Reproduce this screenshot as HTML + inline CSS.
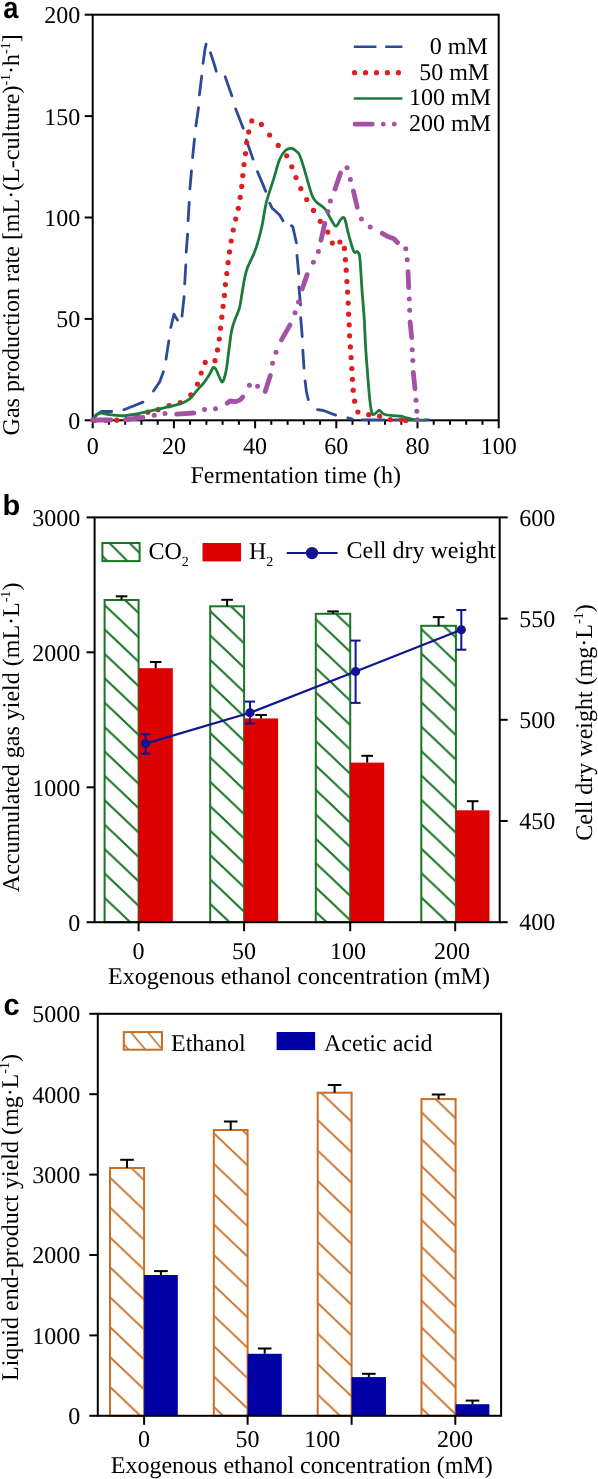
<!DOCTYPE html>
<html><head><meta charset="utf-8"><style>
html,body{margin:0;padding:0;background:#fff;width:598px;height:1479px;overflow:hidden}
svg{display:block;will-change:transform}
text{text-rendering:geometricPrecision}
text{fill:#000}
</style></head><body>
<svg width="598" height="1479" viewBox="0 0 598 1479">
<rect width="598" height="1479" fill="#fff"/>
<text transform="translate(3.3,17.6) scale(0.94,1.05)" font-size="29" font-family="'Liberation Sans', sans-serif" font-weight="bold">a</text>
<rect x="92.7" y="14.7" width="406" height="405.6" fill="none" stroke="#000" stroke-width="2.0"/>
<line x1="84.7" y1="420.3" x2="92.7" y2="420.3" stroke="#000" stroke-width="2.0" />
<text x="80.2" y="428.7" font-size="24" text-anchor="end" font-family="'Liberation Serif', serif" font-weight="normal" >0</text>
<line x1="84.7" y1="318.9" x2="92.7" y2="318.9" stroke="#000" stroke-width="2.0" />
<text x="80.2" y="327.3" font-size="24" text-anchor="end" font-family="'Liberation Serif', serif" font-weight="normal" >50</text>
<line x1="84.7" y1="217.5" x2="92.7" y2="217.5" stroke="#000" stroke-width="2.0" />
<text x="80.2" y="225.9" font-size="24" text-anchor="end" font-family="'Liberation Serif', serif" font-weight="normal" >100</text>
<line x1="84.7" y1="116.1" x2="92.7" y2="116.1" stroke="#000" stroke-width="2.0" />
<text x="80.2" y="124.5" font-size="24" text-anchor="end" font-family="'Liberation Serif', serif" font-weight="normal" >150</text>
<line x1="84.7" y1="14.7" x2="92.7" y2="14.7" stroke="#000" stroke-width="2.0" />
<text x="80.2" y="23.1" font-size="24" text-anchor="end" font-family="'Liberation Serif', serif" font-weight="normal" >200</text>
<line x1="92.7" y1="420.3" x2="92.7" y2="428.3" stroke="#000" stroke-width="2.0" />
<line x1="108.9" y1="420.3" x2="108.9" y2="424.8" stroke="#000" stroke-width="2.0" />
<line x1="125.2" y1="420.3" x2="125.2" y2="424.8" stroke="#000" stroke-width="2.0" />
<line x1="141.4" y1="420.3" x2="141.4" y2="424.8" stroke="#000" stroke-width="2.0" />
<line x1="157.7" y1="420.3" x2="157.7" y2="424.8" stroke="#000" stroke-width="2.0" />
<line x1="173.9" y1="420.3" x2="173.9" y2="428.3" stroke="#000" stroke-width="2.0" />
<line x1="190.1" y1="420.3" x2="190.1" y2="424.8" stroke="#000" stroke-width="2.0" />
<line x1="206.4" y1="420.3" x2="206.4" y2="424.8" stroke="#000" stroke-width="2.0" />
<line x1="222.6" y1="420.3" x2="222.6" y2="424.8" stroke="#000" stroke-width="2.0" />
<line x1="238.9" y1="420.3" x2="238.9" y2="424.8" stroke="#000" stroke-width="2.0" />
<line x1="255.1" y1="420.3" x2="255.1" y2="428.3" stroke="#000" stroke-width="2.0" />
<line x1="271.3" y1="420.3" x2="271.3" y2="424.8" stroke="#000" stroke-width="2.0" />
<line x1="287.6" y1="420.3" x2="287.6" y2="424.8" stroke="#000" stroke-width="2.0" />
<line x1="303.8" y1="420.3" x2="303.8" y2="424.8" stroke="#000" stroke-width="2.0" />
<line x1="320.1" y1="420.3" x2="320.1" y2="424.8" stroke="#000" stroke-width="2.0" />
<line x1="336.3" y1="420.3" x2="336.3" y2="428.3" stroke="#000" stroke-width="2.0" />
<line x1="352.5" y1="420.3" x2="352.5" y2="424.8" stroke="#000" stroke-width="2.0" />
<line x1="368.8" y1="420.3" x2="368.8" y2="424.8" stroke="#000" stroke-width="2.0" />
<line x1="385" y1="420.3" x2="385" y2="424.8" stroke="#000" stroke-width="2.0" />
<line x1="401.3" y1="420.3" x2="401.3" y2="424.8" stroke="#000" stroke-width="2.0" />
<line x1="417.5" y1="420.3" x2="417.5" y2="428.3" stroke="#000" stroke-width="2.0" />
<line x1="433.7" y1="420.3" x2="433.7" y2="424.8" stroke="#000" stroke-width="2.0" />
<line x1="450" y1="420.3" x2="450" y2="424.8" stroke="#000" stroke-width="2.0" />
<line x1="466.2" y1="420.3" x2="466.2" y2="424.8" stroke="#000" stroke-width="2.0" />
<line x1="482.5" y1="420.3" x2="482.5" y2="424.8" stroke="#000" stroke-width="2.0" />
<line x1="498.7" y1="420.3" x2="498.7" y2="428.3" stroke="#000" stroke-width="2.0" />
<text x="92.7" y="454.2" font-size="24" text-anchor="middle" font-family="'Liberation Serif', serif" font-weight="normal" >0</text>
<text x="173.9" y="454.2" font-size="24" text-anchor="middle" font-family="'Liberation Serif', serif" font-weight="normal" >20</text>
<text x="255.1" y="454.2" font-size="24" text-anchor="middle" font-family="'Liberation Serif', serif" font-weight="normal" >40</text>
<text x="336.3" y="454.2" font-size="24" text-anchor="middle" font-family="'Liberation Serif', serif" font-weight="normal" >60</text>
<text x="417.5" y="454.2" font-size="24" text-anchor="middle" font-family="'Liberation Serif', serif" font-weight="normal" >80</text>
<text x="498.7" y="454.2" font-size="24" text-anchor="middle" font-family="'Liberation Serif', serif" font-weight="normal" >100</text>
<text x="295.7" y="482.8" font-size="24" text-anchor="middle" font-family="'Liberation Serif', serif" font-weight="normal" >Fermentation time (h)</text>
<text transform="translate(19,234.8) rotate(-90)" font-size="24" text-anchor="middle" font-family="'Liberation Serif', serif">Gas production rate [mL·(L-culture)<tspan dy="-9" font-size="14">-1</tspan><tspan dy="9">·h</tspan><tspan dy="-9" font-size="14">-1</tspan><tspan dy="9">]</tspan></text>
<path d="M93.9,418.6 L96.2,414.6 L101.7,411.5 L111.7,411.5 M123.8,409.8 L133.5,406 L142.9,402.1 M153.5,391 L156.5,386.5 L159.8,381.6 L163.4,371.8 M166,359.2 L168.8,340.9 M170.8,327.5 L174,314.2 L177.5,320.1 M182,316.1 L184.1,296.7 M184.7,283.9 L185.8,265 M186.2,252.2 L187.6,234.1 M188.1,220.6 L189.2,202.5 M189.9,188.9 L191.5,170.9 M192.6,157.5 L194.5,139.1 M195.9,125.9 L198.5,107.7 M199.4,94.8 L201.7,76.2 M203,63.4 L205.2,48 L206.1,44.1 M210.5,52.8 L214.3,64.5 L216.2,71.2 M225.2,76.8 L231.9,95.9 M235.7,108.9 L243.2,128.2 M246.3,140 L253,159.1 M257.5,171.6 L265.8,191.4 M269.7,203.2 L272.2,208.3 L279.7,215 L283,220.8 M291.4,225.7 L292.8,226.8 L296.4,242.8 M297,255.5 L298.7,273.6 M298.9,286.9 L300.5,304.9 M300.7,317.6 L302.2,336.5 M302.8,350.1 L304,368.1 M305.1,380.8 L306.5,392 L308.3,399.7 M317.5,409.7 L323.4,410.5 L335.6,415.1 M347.8,417.9 L352.3,419.2 M362.1,419.8 L384.1,419.8 M394.6,419.8 L417.5,419.8 M424.7,419.8 L428.9,419.8" fill="none" stroke="#2D4A98" stroke-width="2.8" stroke-linejoin="round" stroke-linecap="round"/>
<g fill="#DF1F1F"><circle cx="94.9" cy="420.3" r="2.6"/><circle cx="105.8" cy="420.3" r="2.6"/><circle cx="116.8" cy="420.2" r="2.6"/><circle cx="127.2" cy="419" r="2.6"/><circle cx="137.6" cy="416" r="2.6"/><circle cx="147.8" cy="412.2" r="2.6"/><circle cx="158" cy="409.7" r="2.6"/><circle cx="169.1" cy="405.7" r="2.6"/><circle cx="180.3" cy="402.6" r="2.6"/><circle cx="190.8" cy="394.8" r="2.6"/><circle cx="197.5" cy="384.1" r="2.6"/><circle cx="201.2" cy="373" r="2.6"/><circle cx="205.2" cy="362.4" r="2.6"/><circle cx="215" cy="360.7" r="2.6"/><circle cx="217.5" cy="349.9" r="2.6"/><circle cx="219.3" cy="339" r="2.6"/><circle cx="220.5" cy="328.2" r="2.6"/><circle cx="221.8" cy="317.2" r="2.6"/><circle cx="223.1" cy="306.3" r="2.6"/><circle cx="224.4" cy="295.4" r="2.6"/><circle cx="225.4" cy="284.6" r="2.6"/><circle cx="226.8" cy="273.6" r="2.6"/><circle cx="228.1" cy="262.7" r="2.6"/><circle cx="229.5" cy="251.9" r="2.6"/><circle cx="231.2" cy="241" r="2.6"/><circle cx="233.2" cy="230" r="2.6"/><circle cx="235.7" cy="219.1" r="2.6"/><circle cx="238.3" cy="208.3" r="2.6"/><circle cx="240.2" cy="197.3" r="2.6"/><circle cx="241.7" cy="186.4" r="2.6"/><circle cx="242.8" cy="175.6" r="2.6"/><circle cx="244" cy="164.6" r="2.6"/><circle cx="245.5" cy="153.6" r="2.6"/><circle cx="246.7" cy="142.5" r="2.6"/><circle cx="248.7" cy="131.9" r="2.6"/><circle cx="251.8" cy="120.9" r="2.6"/><circle cx="261.4" cy="124.4" r="2.6"/><circle cx="269.6" cy="135" r="2.6"/><circle cx="278.2" cy="145.4" r="2.6"/><circle cx="286.7" cy="155.8" r="2.6"/><circle cx="291.8" cy="166.8" r="2.6"/><circle cx="296" cy="177.6" r="2.6"/><circle cx="300.8" cy="188.6" r="2.6"/><circle cx="306.7" cy="199.5" r="2.6"/><circle cx="313.5" cy="210.4" r="2.6"/><circle cx="320.3" cy="221.3" r="2.6"/><circle cx="327.8" cy="232.1" r="2.6"/><circle cx="332.3" cy="243.1" r="2.6"/><circle cx="339.9" cy="242" r="2.6"/><circle cx="344.4" cy="248.4" r="2.6"/><circle cx="345.4" cy="259.7" r="2.6"/><circle cx="346.2" cy="270.2" r="2.6"/><circle cx="346.9" cy="281.5" r="2.6"/><circle cx="347.6" cy="292.1" r="2.6"/><circle cx="348.2" cy="303.1" r="2.6"/><circle cx="348.6" cy="314.2" r="2.6"/><circle cx="349.2" cy="324.8" r="2.6"/><circle cx="349.6" cy="335.8" r="2.6"/><circle cx="350.4" cy="346.9" r="2.6"/><circle cx="351.1" cy="357.5" r="2.6"/><circle cx="351.8" cy="368.5" r="2.6"/><circle cx="352.5" cy="379.3" r="2.6"/><circle cx="353.2" cy="390.2" r="2.6"/><circle cx="354.6" cy="401.2" r="2.6"/><circle cx="357.9" cy="412" r="2.6"/><circle cx="368.7" cy="414.7" r="2.6"/><circle cx="379.6" cy="416.1" r="2.6"/><circle cx="390.4" cy="419.6" r="2.6"/><circle cx="401.2" cy="419.8" r="2.6"/><circle cx="405.8" cy="420.5" r="2.6"/></g>
<path d="M92.7,420.3 C93,419.8 93.8,418.4 94.7,417.3 C95.6,416.2 96.8,414.7 98,414 C99.2,413.3 100.1,413.1 101.7,413.2 C103.3,413.2 104.7,413.9 107.6,414.3 C110.5,414.7 116.4,415.4 119.3,415.6 C122.2,415.8 122.2,415.9 125.1,415.6 C128,415.3 133.1,414.7 136.8,414 C140.5,413.3 143.2,412.6 147.4,411.6 C151.6,410.7 156.4,409.5 161.7,408.3 C167,407.1 174.6,405.8 179.3,404.2 C184,402.6 186.9,401.1 189.8,398.9 C192.7,396.6 194.3,393.6 196.8,390.7 C199.3,387.8 202.8,384.2 205,381.3 C207.2,378.4 208.6,375.8 210,373.5 C211.4,371.2 212.2,368.2 213.2,367.5 C214.2,366.8 215.1,368.2 216,369.5 C216.9,370.8 217.7,373.4 218.7,375.5 C219.7,377.6 221,381.6 221.9,382 C222.8,382.4 223.5,380.3 224.3,378 C225.1,375.7 225.9,372.4 226.6,368 C227.3,363.6 227.9,357.6 228.7,351.7 C229.5,345.8 230.4,337.5 231.3,332.4 C232.2,327.3 233,325.4 234.3,321.3 C235.7,317.2 238.1,312.7 239.4,308.1 C240.7,303.5 241.1,298.8 241.9,293.9 C242.8,289 243.6,283.1 244.5,278.7 C245.4,274.3 246,271.7 247.5,267.6 C249,263.6 251.9,258.5 253.6,254.4 C255.3,250.3 256.2,248.1 257.6,243.2 C259,238.3 260.8,231.7 262.2,225 C263.6,218.3 264.3,210.7 266.2,203 C268.1,195.3 271.4,186.2 273.7,178.9 C275.9,171.6 277.7,164.1 279.7,159.3 C281.7,154.5 283.7,152.1 285.7,150.3 C287.7,148.5 290,148.3 291.8,148.5 C293.6,148.7 295.3,150.4 296.6,151.5 C297.9,152.6 298.2,152.2 299.5,155 C300.8,157.8 302.1,162.1 304.1,168.6 C306.1,175.1 309.6,188.7 311.6,194.2 C313.6,199.7 313.8,199.2 316.1,201.7 C318.4,204.2 322.7,206.2 325.2,209.2 C327.7,212.2 329.4,217 331.2,219.8 C333,222.7 334.4,226.3 336,226.3 C337.6,226.3 339.1,221.1 340.5,219.8 C341.9,218.5 343.2,216 344.5,218.3 C345.8,220.6 346.8,228.1 348.4,233.6 C349.9,239.1 352.3,248.4 353.8,251.4 C355.3,254.4 356.5,250.8 357.5,251.6 C358.5,252.4 359.1,253 359.6,256 C360.1,259 360.3,263.7 360.7,269.4 C361.1,275.1 361.4,281.8 362,290 C362.6,298.2 363.6,308.9 364.2,318.4 C364.8,327.9 365,337.4 365.6,346.9 C366.2,356.4 367,366.3 367.7,375.3 C368.4,384.3 369.2,394.6 369.9,400.9 C370.6,407.2 371.2,411 372,413.2 C372.8,415.4 373.3,414.6 374.5,414.2 C375.7,413.8 377.5,410.5 379.1,410.5 C380.7,410.5 381.9,413.3 384.1,414.2 C386.4,415.1 389.8,415.3 392.6,415.6 C395.4,415.9 398.7,415.8 401.1,416.2 C403.5,416.6 404.9,417.4 406.8,417.9 C408.7,418.4 410.8,418.9 412.5,419.3 C414.2,419.7 414.9,419.8 417,420 C419.1,420.2 423.7,420.2 425,420.3" fill="none" stroke="#1C7A3A" stroke-width="2.8" stroke-linejoin="round"/>
<path d="M92.8,420 L110.7,420 M125.5,419.6 L142.8,417.5 M176.6,414.1 L193.7,413 M227.2,403.2 L230.1,401 L236,401.6 L240.1,399.9 L242.7,397.1 M265.2,391.5 L270.3,375.5 M281.5,339.9 L289.9,325.1 M302.2,288.9 L307.1,274.6 M321,240.3 L324.8,223.3 M335,189.1 L340.5,173 M353.4,191 L357.2,207.3 M382.3,233.3 L388.4,236.8 L393.8,238.8 L397.5,242.5 M408,271.6 L408.7,287.6 M410.1,322 L411.7,337.6 M413.3,372.4 L415,388.8" fill="none" stroke="#A452A6" stroke-width="4.8" stroke-linejoin="round" stroke-linecap="round"/>
<g fill="#A452A6"><circle cx="154.2" cy="415.2" r="2.5"/><circle cx="165" cy="413.5" r="2.5"/><circle cx="204.5" cy="409.5" r="2.5"/><circle cx="215.5" cy="408.7" r="2.5"/><circle cx="249.4" cy="385.2" r="2.5"/><circle cx="257.6" cy="386.3" r="2.5"/><circle cx="272.5" cy="363.2" r="2.5"/><circle cx="276" cy="352.3" r="2.5"/><circle cx="295" cy="312.7" r="2.5"/><circle cx="298.5" cy="302.1" r="2.5"/><circle cx="313.4" cy="262.2" r="2.5"/><circle cx="318.4" cy="251.4" r="2.5"/><circle cx="327.9" cy="211.5" r="2.5"/><circle cx="330.4" cy="201" r="2.5"/><circle cx="347" cy="167.8" r="2.5"/><circle cx="350.4" cy="179.4" r="2.5"/><circle cx="361.4" cy="219" r="2.5"/><circle cx="370.2" cy="227" r="2.5"/><circle cx="405.8" cy="248.8" r="2.5"/><circle cx="407.2" cy="259.8" r="2.5"/><circle cx="409.3" cy="299.1" r="2.5"/><circle cx="409.7" cy="310.2" r="2.5"/><circle cx="412.2" cy="349.7" r="2.5"/><circle cx="412.8" cy="360.6" r="2.5"/><circle cx="416" cy="400.2" r="2.5"/><circle cx="416.8" cy="411.2" r="2.5"/><circle cx="417.3" cy="419.8" r="2.5"/></g>
<polyline points="353.8,46.7 402.4,46.7" fill="none" stroke="#2D4A98" stroke-width="2.4" stroke-linecap="butt" stroke-linejoin="round" stroke-dasharray="22.6 8.8"/>
<text x="487.8" y="53.7" font-size="24" text-anchor="end" font-family="'Liberation Serif', serif" font-weight="normal" >0 mM</text>
<polyline points="354.6,72.7 399,72.7" fill="none" stroke="#DF1F1F" stroke-width="5.2" stroke-linecap="round" stroke-linejoin="round" stroke-dasharray="0 10.95"/>
<text x="489.2" y="79.7" font-size="24" text-anchor="end" font-family="'Liberation Serif', serif" font-weight="normal" >50 mM</text>
<polyline points="353.8,98.5 402.4,98.5" fill="none" stroke="#1C7A3A" stroke-width="2.6" stroke-linecap="butt" stroke-linejoin="round"/>
<text x="491.1" y="105.2" font-size="24" text-anchor="end" font-family="'Liberation Serif', serif" font-weight="normal" >100 mM</text>
<polyline points="355,124.2 402.4,124.2" fill="none" stroke="#A452A6" stroke-width="4.8" stroke-linecap="round" stroke-linejoin="round" stroke-dasharray="17.3 11 0 11 0 11"/>
<text x="491" y="130.8" font-size="24" text-anchor="end" font-family="'Liberation Serif', serif" font-weight="normal" >200 mM</text>
<text transform="translate(2.4,515.3)" font-size="29" font-family="'Liberation Sans', sans-serif" font-weight="bold">b</text>
<defs>
<pattern id="hb0" patternUnits="userSpaceOnUse" width="25.7" height="24.4" x="125" y="600"><path d="M-25.7,-24.4 L51.4,48.8 M-25.7,0 L25.7,48.8 M0,-24.4 L51.4,24.4" stroke="#187624" stroke-width="2.0" fill="none"/></pattern>
<pattern id="hb1" patternUnits="userSpaceOnUse" width="25.7" height="24.4" x="230.9" y="606.3"><path d="M-25.7,-24.4 L51.4,48.8 M-25.7,0 L25.7,48.8 M0,-24.4 L51.4,24.4" stroke="#187624" stroke-width="2.0" fill="none"/></pattern>
<pattern id="hb2" patternUnits="userSpaceOnUse" width="25.7" height="24.4" x="335.9" y="613.8"><path d="M-25.7,-24.4 L51.4,48.8 M-25.7,0 L25.7,48.8 M0,-24.4 L51.4,24.4" stroke="#187624" stroke-width="2.0" fill="none"/></pattern>
<pattern id="hb3" patternUnits="userSpaceOnUse" width="25.7" height="24.4" x="443.6" y="625.8"><path d="M-25.7,-24.4 L51.4,48.8 M-25.7,0 L25.7,48.8 M0,-24.4 L51.4,24.4" stroke="#187624" stroke-width="2.0" fill="none"/></pattern>
<pattern id="hbl" patternUnits="userSpaceOnUse" width="20.1" height="20.1" x="110" y="543.6"><path d="M-20.1,-20.1 L40.2,40.2 M-20.1,0 L20.1,40.2 M0,-20.1 L40.2,20.1" stroke="#187624" stroke-width="2.0" fill="none"/></pattern>
<pattern id="hc0" patternUnits="userSpaceOnUse" width="31.5" height="29.9" x="110" y="1177.6"><path d="M-31.5,-29.9 L63.1,59.9 M-31.5,0 L31.5,59.9 M0,-29.9 L63.1,29.9" stroke="#C96E25" stroke-width="1.9" fill="none"/></pattern>
<pattern id="hc1" patternUnits="userSpaceOnUse" width="32" height="30.4" x="213.8" y="1163.7"><path d="M-32,-30.4 L64,60.8 M-32,0 L32,60.8 M0,-30.4 L64,30.4" stroke="#C96E25" stroke-width="1.9" fill="none"/></pattern>
<pattern id="hc2" patternUnits="userSpaceOnUse" width="32.1" height="30.5" x="317.7" y="1120.1"><path d="M-32.1,-30.5 L64.2,61 M-32.1,0 L32.1,61 M0,-30.5 L64.2,30.5" stroke="#C96E25" stroke-width="1.9" fill="none"/></pattern>
<pattern id="hc3" patternUnits="userSpaceOnUse" width="27.8" height="26.9" x="421.5" y="1112.3"><path d="M-27.8,-26.9 L55.6,53.8 M-27.8,0 L27.8,53.8 M0,-26.9 L55.6,26.9" stroke="#C96E25" stroke-width="1.9" fill="none"/></pattern>
<pattern id="hcl" patternUnits="userSpaceOnUse" width="16.9" height="20.1" x="130" y="1031.2"><path d="M-16.9,-20.1 L33.8,40.2 M-16.9,0 L16.9,40.2 M0,-20.1 L33.8,20.1" stroke="#C96E25" stroke-width="1.6" fill="none"/></pattern>
</defs>
<rect x="104.6" y="600" width="34" height="322.2" fill="url(#hb0)" stroke="#187624" stroke-width="2"/>
<line x1="121.6" y1="600" x2="121.6" y2="596.3" stroke="#000" stroke-width="2.0" />
<line x1="115.8" y1="596.3" x2="127.4" y2="596.3" stroke="#000" stroke-width="2.0" />
<rect x="210.2" y="606.3" width="33.9" height="315.9" fill="url(#hb1)" stroke="#187624" stroke-width="2"/>
<line x1="227.1" y1="606.3" x2="227.1" y2="599.8" stroke="#000" stroke-width="2.0" />
<line x1="221.3" y1="599.8" x2="232.9" y2="599.8" stroke="#000" stroke-width="2.0" />
<rect x="315.8" y="613.8" width="34.4" height="308.4" fill="url(#hb2)" stroke="#187624" stroke-width="2"/>
<line x1="333" y1="613.8" x2="333" y2="611.4" stroke="#000" stroke-width="2.0" />
<line x1="327.2" y1="611.4" x2="338.8" y2="611.4" stroke="#000" stroke-width="2.0" />
<rect x="421.3" y="625.8" width="34.6" height="296.4" fill="url(#hb3)" stroke="#187624" stroke-width="2"/>
<line x1="438.6" y1="625.8" x2="438.6" y2="617.1" stroke="#000" stroke-width="2.0" />
<line x1="432.8" y1="617.1" x2="444.4" y2="617.1" stroke="#000" stroke-width="2.0" />
<rect x="138.6" y="668.2" width="34.2" height="254" fill="#DC0000"/>
<line x1="155.7" y1="668.2" x2="155.7" y2="662" stroke="#000" stroke-width="2.0" />
<line x1="149.9" y1="662" x2="161.5" y2="662" stroke="#000" stroke-width="2.0" />
<rect x="244.1" y="718.4" width="34" height="203.8" fill="#DC0000"/>
<line x1="261.1" y1="718.4" x2="261.1" y2="715" stroke="#000" stroke-width="2.0" />
<line x1="255.3" y1="715" x2="266.9" y2="715" stroke="#000" stroke-width="2.0" />
<rect x="350.2" y="762.6" width="34" height="159.6" fill="#DC0000"/>
<line x1="367.2" y1="762.6" x2="367.2" y2="755.8" stroke="#000" stroke-width="2.0" />
<line x1="361.4" y1="755.8" x2="373" y2="755.8" stroke="#000" stroke-width="2.0" />
<rect x="455.9" y="810.3" width="33.6" height="111.9" fill="#DC0000"/>
<line x1="472.7" y1="810.3" x2="472.7" y2="801.2" stroke="#000" stroke-width="2.0" />
<line x1="466.9" y1="801.2" x2="478.5" y2="801.2" stroke="#000" stroke-width="2.0" />
<polyline points="145.5,743.6 250,712.8 355.6,671.6 461.3,629.8" fill="none" stroke="#13138F" stroke-width="2.2" stroke-linecap="butt" stroke-linejoin="round"/>
<line x1="145.5" y1="734.2" x2="145.5" y2="753.7" stroke="#13138F" stroke-width="2.0" />
<line x1="140.5" y1="734.2" x2="150.5" y2="734.2" stroke="#13138F" stroke-width="2.0" />
<line x1="140.5" y1="753.7" x2="150.5" y2="753.7" stroke="#13138F" stroke-width="2.0" />
<circle cx="145.5" cy="743.6" r="4.6" fill="#13138F"/>
<line x1="250" y1="701.6" x2="250" y2="723.5" stroke="#13138F" stroke-width="2.0" />
<line x1="245" y1="701.6" x2="255" y2="701.6" stroke="#13138F" stroke-width="2.0" />
<line x1="245" y1="723.5" x2="255" y2="723.5" stroke="#13138F" stroke-width="2.0" />
<circle cx="250" cy="712.8" r="4.6" fill="#13138F"/>
<line x1="355.6" y1="640.6" x2="355.6" y2="702.9" stroke="#13138F" stroke-width="2.0" />
<line x1="350.6" y1="640.6" x2="360.6" y2="640.6" stroke="#13138F" stroke-width="2.0" />
<line x1="350.6" y1="702.9" x2="360.6" y2="702.9" stroke="#13138F" stroke-width="2.0" />
<circle cx="355.6" cy="671.6" r="4.6" fill="#13138F"/>
<line x1="461.3" y1="610" x2="461.3" y2="649.7" stroke="#13138F" stroke-width="2.0" />
<line x1="456.3" y1="610" x2="466.3" y2="610" stroke="#13138F" stroke-width="2.0" />
<line x1="456.3" y1="649.7" x2="466.3" y2="649.7" stroke="#13138F" stroke-width="2.0" />
<circle cx="461.3" cy="629.8" r="4.6" fill="#13138F"/>
<rect x="94.6" y="517.4" width="405.1" height="404.8" fill="none" stroke="#000" stroke-width="2.0"/>
<line x1="86.6" y1="922.2" x2="94.6" y2="922.2" stroke="#000" stroke-width="2.0" />
<text x="80.2" y="930.6" font-size="24" text-anchor="end" font-family="'Liberation Serif', serif" font-weight="normal" >0</text>
<line x1="86.6" y1="787.3" x2="94.6" y2="787.3" stroke="#000" stroke-width="2.0" />
<text x="80.2" y="795.7" font-size="24" text-anchor="end" font-family="'Liberation Serif', serif" font-weight="normal" >1000</text>
<line x1="86.6" y1="652.3" x2="94.6" y2="652.3" stroke="#000" stroke-width="2.0" />
<text x="80.2" y="660.7" font-size="24" text-anchor="end" font-family="'Liberation Serif', serif" font-weight="normal" >2000</text>
<line x1="86.6" y1="517.4" x2="94.6" y2="517.4" stroke="#000" stroke-width="2.0" />
<text x="80.2" y="525.8" font-size="24" text-anchor="end" font-family="'Liberation Serif', serif" font-weight="normal" >3000</text>
<line x1="499.7" y1="922.2" x2="507.7" y2="922.2" stroke="#000" stroke-width="2.0" />
<text x="519.2" y="930.4" font-size="24" text-anchor="start" font-family="'Liberation Serif', serif" font-weight="normal" >400</text>
<line x1="499.7" y1="821" x2="507.7" y2="821" stroke="#000" stroke-width="2.0" />
<text x="519.2" y="829.2" font-size="24" text-anchor="start" font-family="'Liberation Serif', serif" font-weight="normal" >450</text>
<line x1="499.7" y1="719.8" x2="507.7" y2="719.8" stroke="#000" stroke-width="2.0" />
<text x="519.2" y="728" font-size="24" text-anchor="start" font-family="'Liberation Serif', serif" font-weight="normal" >500</text>
<line x1="499.7" y1="618.6" x2="507.7" y2="618.6" stroke="#000" stroke-width="2.0" />
<text x="519.2" y="626.8" font-size="24" text-anchor="start" font-family="'Liberation Serif', serif" font-weight="normal" >550</text>
<line x1="499.7" y1="517.4" x2="507.7" y2="517.4" stroke="#000" stroke-width="2.0" />
<text x="519.2" y="525.6" font-size="24" text-anchor="start" font-family="'Liberation Serif', serif" font-weight="normal" >600</text>
<line x1="138.6" y1="922.2" x2="138.6" y2="931.2" stroke="#000" stroke-width="2.0" />
<line x1="244.1" y1="922.2" x2="244.1" y2="931.2" stroke="#000" stroke-width="2.0" />
<line x1="350.2" y1="922.2" x2="350.2" y2="931.2" stroke="#000" stroke-width="2.0" />
<line x1="455.2" y1="922.2" x2="455.2" y2="931.2" stroke="#000" stroke-width="2.0" />
<text x="138.5" y="959" font-size="24" text-anchor="middle" font-family="'Liberation Serif', serif" font-weight="normal" >0</text>
<text x="244.1" y="959" font-size="24" text-anchor="middle" font-family="'Liberation Serif', serif" font-weight="normal" >50</text>
<text x="348" y="959" font-size="24" text-anchor="middle" font-family="'Liberation Serif', serif" font-weight="normal" >100</text>
<text x="452" y="959" font-size="24" text-anchor="middle" font-family="'Liberation Serif', serif" font-weight="normal" >200</text>
<text x="299" y="983.8" font-size="24" text-anchor="middle" font-family="'Liberation Serif', serif" font-weight="normal" >Exogenous ethanol concentration (mM)</text>
<text transform="translate(18.9,737.4) rotate(-90)" font-size="24" text-anchor="middle" font-family="'Liberation Serif', serif">Accumulated gas yield (mL·L<tspan dy="-9" font-size="14">-1</tspan><tspan dy="9">)</tspan></text>
<text transform="translate(591.8,722.5) rotate(-90)" font-size="24" text-anchor="middle" font-family="'Liberation Serif', serif">Cell dry weight (mg·L<tspan dy="-9" font-size="14">-1</tspan><tspan dy="9">)</tspan></text>
<rect x="102.4" y="543" width="37.2" height="18.1" fill="url(#hbl)" stroke="#187624" stroke-width="2"/>
<text x="148.5" y="558.5" font-size="24" font-family="'Liberation Serif', serif">CO<tspan dy="7" font-size="14">2</tspan></text>
<rect x="202.5" y="543" width="38.5" height="18.4" fill="#DC0000"/>
<text x="249" y="558.5" font-size="24" font-family="'Liberation Serif', serif">H<tspan dy="7" font-size="14">2</tspan></text>
<line x1="286.8" y1="553.1" x2="337.6" y2="553.1" stroke="#13138F" stroke-width="2.0" />
<circle cx="312" cy="553.1" r="6.2" fill="#13138F"/>
<text x="346.5" y="558.3" font-size="24" text-anchor="start" font-family="'Liberation Serif', serif" font-weight="normal" >Cell dry weight</text>
<text transform="translate(3.6,1014.9) scale(1,1.04)" font-size="29" font-family="'Liberation Sans', sans-serif" font-weight="bold">c</text>
<rect x="110" y="1168" width="34.1" height="247.8" fill="url(#hc0)" stroke="#C96E25" stroke-width="2"/>
<line x1="127" y1="1168" x2="127" y2="1159.8" stroke="#000" stroke-width="2.0" />
<line x1="120.2" y1="1159.8" x2="133.8" y2="1159.8" stroke="#000" stroke-width="2.0" />
<rect x="213.8" y="1130" width="33.8" height="285.8" fill="url(#hc1)" stroke="#C96E25" stroke-width="2"/>
<line x1="230.7" y1="1130" x2="230.7" y2="1121.5" stroke="#000" stroke-width="2.0" />
<line x1="223.9" y1="1121.5" x2="237.5" y2="1121.5" stroke="#000" stroke-width="2.0" />
<rect x="317.7" y="1092.7" width="33.9" height="323.1" fill="url(#hc2)" stroke="#C96E25" stroke-width="2"/>
<line x1="334.6" y1="1092.7" x2="334.6" y2="1085" stroke="#000" stroke-width="2.0" />
<line x1="327.8" y1="1085" x2="341.4" y2="1085" stroke="#000" stroke-width="2.0" />
<rect x="421.5" y="1099.1" width="34.1" height="316.7" fill="url(#hc3)" stroke="#C96E25" stroke-width="2"/>
<line x1="438.6" y1="1099.1" x2="438.6" y2="1094.5" stroke="#000" stroke-width="2.0" />
<line x1="431.8" y1="1094.5" x2="445.4" y2="1094.5" stroke="#000" stroke-width="2.0" />
<rect x="144.1" y="1275" width="33.7" height="140.8" fill="#0000A5"/>
<line x1="160.9" y1="1275" x2="160.9" y2="1271.1" stroke="#000" stroke-width="2.0" />
<line x1="154.1" y1="1271.1" x2="167.8" y2="1271.1" stroke="#000" stroke-width="2.0" />
<rect x="247.6" y="1353.8" width="34.2" height="62" fill="#0000A5"/>
<line x1="264.7" y1="1353.8" x2="264.7" y2="1348.5" stroke="#000" stroke-width="2.0" />
<line x1="257.9" y1="1348.5" x2="271.5" y2="1348.5" stroke="#000" stroke-width="2.0" />
<rect x="351.6" y="1377.1" width="34.4" height="38.7" fill="#0000A5"/>
<line x1="368.8" y1="1377.1" x2="368.8" y2="1373.8" stroke="#000" stroke-width="2.0" />
<line x1="362" y1="1373.8" x2="375.6" y2="1373.8" stroke="#000" stroke-width="2.0" />
<rect x="455.6" y="1404.2" width="33.8" height="11.6" fill="#0000A5"/>
<line x1="472.5" y1="1404.2" x2="472.5" y2="1400.6" stroke="#000" stroke-width="2.0" />
<line x1="465.7" y1="1400.6" x2="479.3" y2="1400.6" stroke="#000" stroke-width="2.0" />
<rect x="97.8" y="1013.8" width="403.3" height="402" fill="none" stroke="#000" stroke-width="2.0"/>
<line x1="89.3" y1="1415.8" x2="97.8" y2="1415.8" stroke="#000" stroke-width="2.0" />
<text x="80.2" y="1424.2" font-size="24" text-anchor="end" font-family="'Liberation Serif', serif" font-weight="normal" >0</text>
<line x1="89.3" y1="1335.4" x2="97.8" y2="1335.4" stroke="#000" stroke-width="2.0" />
<text x="80.2" y="1343.8" font-size="24" text-anchor="end" font-family="'Liberation Serif', serif" font-weight="normal" >1000</text>
<line x1="89.3" y1="1255" x2="97.8" y2="1255" stroke="#000" stroke-width="2.0" />
<text x="80.2" y="1263.4" font-size="24" text-anchor="end" font-family="'Liberation Serif', serif" font-weight="normal" >2000</text>
<line x1="89.3" y1="1174.6" x2="97.8" y2="1174.6" stroke="#000" stroke-width="2.0" />
<text x="80.2" y="1183" font-size="24" text-anchor="end" font-family="'Liberation Serif', serif" font-weight="normal" >3000</text>
<line x1="89.3" y1="1094.2" x2="97.8" y2="1094.2" stroke="#000" stroke-width="2.0" />
<text x="80.2" y="1102.6" font-size="24" text-anchor="end" font-family="'Liberation Serif', serif" font-weight="normal" >4000</text>
<line x1="89.3" y1="1013.8" x2="97.8" y2="1013.8" stroke="#000" stroke-width="2.0" />
<text x="80.2" y="1022.2" font-size="24" text-anchor="end" font-family="'Liberation Serif', serif" font-weight="normal" >5000</text>
<line x1="144.1" y1="1415.8" x2="144.1" y2="1424.8" stroke="#000" stroke-width="2.0" />
<line x1="247.6" y1="1415.8" x2="247.6" y2="1424.8" stroke="#000" stroke-width="2.0" />
<line x1="351.6" y1="1415.8" x2="351.6" y2="1424.8" stroke="#000" stroke-width="2.0" />
<line x1="455.3" y1="1415.8" x2="455.3" y2="1424.8" stroke="#000" stroke-width="2.0" />
<text x="144.1" y="1446.5" font-size="24" text-anchor="middle" font-family="'Liberation Serif', serif" font-weight="normal" >0</text>
<text x="247.6" y="1446.5" font-size="24" text-anchor="middle" font-family="'Liberation Serif', serif" font-weight="normal" >50</text>
<text x="322.2" y="1446.5" font-size="24" text-anchor="middle" font-family="'Liberation Serif', serif" font-weight="normal" >100</text>
<text x="455.1" y="1446.5" font-size="24" text-anchor="middle" font-family="'Liberation Serif', serif" font-weight="normal" >200</text>
<text x="301.7" y="1472.9" font-size="24" text-anchor="middle" font-family="'Liberation Serif', serif" font-weight="normal" >Exogenous ethanol concentration (mM)</text>
<text transform="translate(18.4,1217.5) rotate(-90)" font-size="24" text-anchor="middle" font-family="'Liberation Serif', serif">Liquid end-product yield (mg·L<tspan dy="-9" font-size="14">-1</tspan><tspan dy="9">)</tspan></text>
<rect x="123.8" y="1032.1" width="38.2" height="17.6" fill="url(#hcl)" stroke="#C96E25" stroke-width="2"/>
<text x="171" y="1050.5" font-size="24" text-anchor="start" font-family="'Liberation Serif', serif" font-weight="normal" >Ethanol</text>
<rect x="276.6" y="1032" width="38.5" height="18.1" fill="#0000A5"/>
<text x="324" y="1050.5" font-size="24" text-anchor="start" font-family="'Liberation Serif', serif" font-weight="normal" >Acetic acid</text>
</svg></body></html>
